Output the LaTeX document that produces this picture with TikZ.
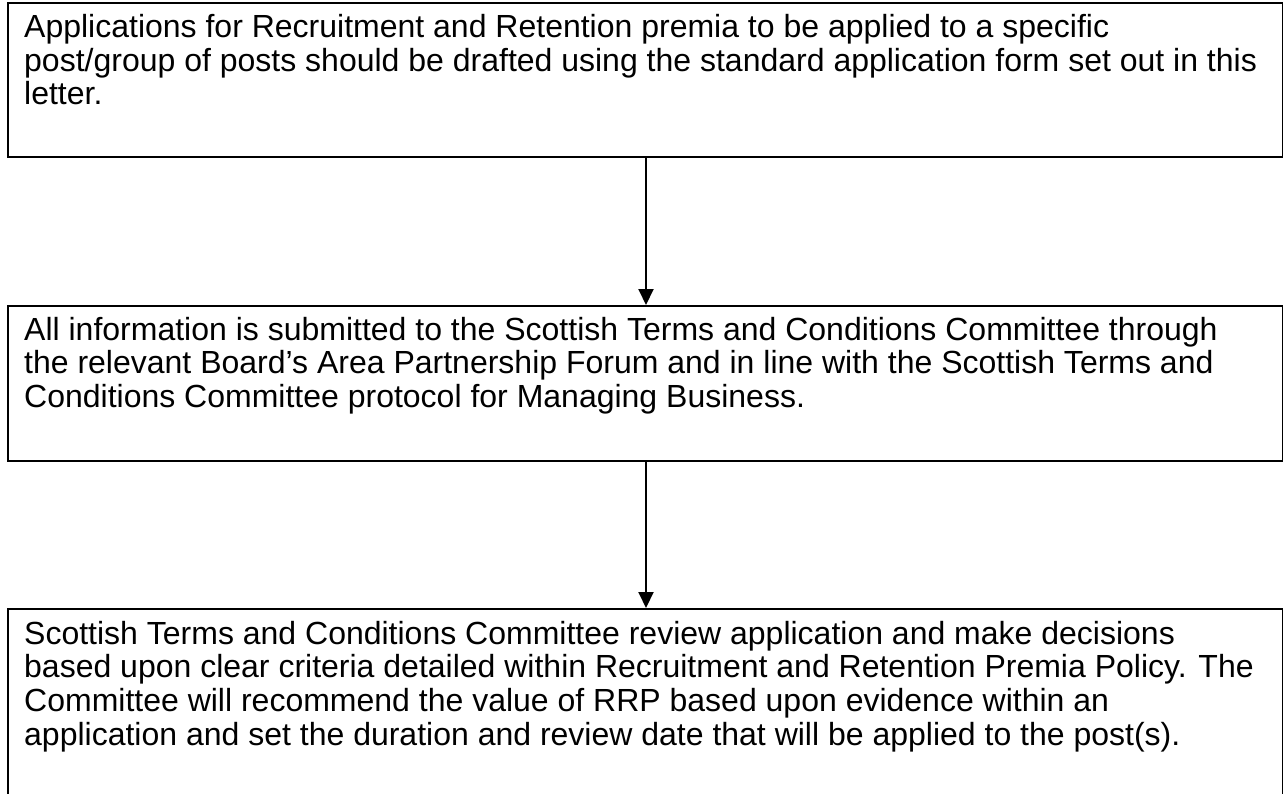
\documentclass[tikz,border=0pt]{standalone}
\usepackage{fontspec}
\setmainfont{Liberation Sans}
\usetikzlibrary{arrows.meta}
\begin{document}
\begin{tikzpicture}[x=1pt,y=-1pt,
  box/.style={draw=black, line width=2pt, anchor=north west, inner sep=0pt, minimum width=1275pt},
  txt/.style={anchor=north west, inner sep=0pt, align=left, font=\fontsize{32}{33.6}\selectfont},
  conn/.style={line width=2pt, -{Triangle[width=15pt,length=16pt]}}]
\clip (0,0) rectangle (1283,793);
\node[box, minimum height=154pt] (b1) at (7,2) {};
\node[box, minimum height=155pt] (b2) at (7,305) {};
\node[box, minimum height=200pt] (b3) at (7,608) {};
\node[txt] (t1) at (24,14) {\strut Applications for Recruitment and Retention premia to be applied to a specific\\post/group of posts should be drafted using the standard application form set out in this\\letter.};
\node[txt] (t2) at (24,316.5) {\strut All information is submitted to the Scottish Terms and Conditions Committee through\\the relevant Board’s Area Partnership Forum and in line with the Scottish Terms and\\Conditions Committee protocol for Managing Business.};
\node[txt] (t3) at (24,620.5) {\strut Scottish Terms and Conditions Committee review application and make decisions\\based upon clear criteria detailed within Recruitment and Retention Premia Policy. The\\Committee will recommend the value of RRP based upon evidence within an\\application and set the duration and review date that will be applied to the post(s).};
\coordinate (ax) at (646,0);
\draw[conn] (b1.south -| ax) -- (b2.north -| ax);
\draw[conn] (b2.south -| ax) -- (b3.north -| ax);
\end{tikzpicture}
\end{document}
